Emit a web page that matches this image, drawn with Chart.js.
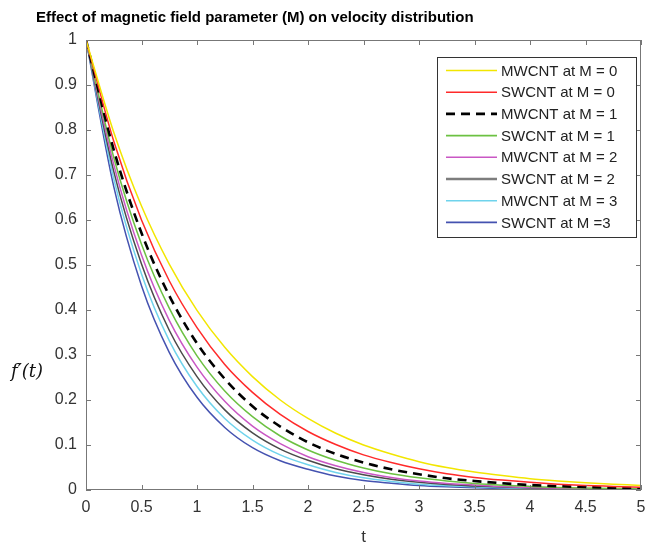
<!DOCTYPE html>
<html>
<head>
<meta charset="utf-8">
<script src="https://cdn.jsdelivr.net/npm/chart.js@4/dist/chart.umd.min.js"></script>
<style>
  html, body { margin: 0; padding: 0; background: #fff; }
  canvas { display: block; }
</style>
</head>
<body>
<canvas id="velChart" width="648" height="546"></canvas>
<script>
// t values (x axis)
const tValues = [0, 0.25, 0.5, 0.75, 1, 1.25, 1.5, 1.75, 2, 2.25, 2.5, 2.75, 3, 3.25, 3.5, 3.75, 4, 4.25, 4.5, 4.75, 5];

// f'(t)
const mwcntM0 = [1, 0.795, 0.631, 0.502, 0.399, 0.317, 0.252, 0.200, 0.159, 0.126, 0.100, 0.080, 0.063, 0.050, 0.040, 0.032, 0.025, 0.020, 0.016, 0.013, 0.010];
const swcntM0 = [1, 0.775, 0.600, 0.465, 0.361, 0.279, 0.217, 0.168, 0.130, 0.101, 0.078, 0.061, 0.047, 0.036, 0.028, 0.022, 0.017, 0.013, 0.010, 0.008, 0.006];
const mwcntM1 = [1, 0.756, 0.571, 0.432, 0.326, 0.247, 0.186, 0.141, 0.106, 0.080, 0.061, 0.046, 0.035, 0.026, 0.020, 0.015, 0.011, 0.0086, 0.0065, 0.0049, 0.0037];
const swcntM1 = [1, 0.739, 0.546, 0.404, 0.298, 0.220, 0.163, 0.120, 0.089, 0.066, 0.049, 0.036, 0.027, 0.020, 0.0145, 0.0107, 0.008, 0.0058, 0.0043, 0.0032, 0.0024];
const mwcntM2 = [1, 0.723, 0.522, 0.377, 0.273, 0.197, 0.142, 0.103, 0.074, 0.054, 0.039, 0.028, 0.020, 0.0146, 0.011, 0.0076, 0.0055, 0.004, 0.003, 0.002, 0.0015];
const swcntM2 = [1, 0.708, 0.502, 0.355, 0.252, 0.178, 0.127, 0.091, 0.066, 0.047, 0.034, 0.024, 0.017, 0.012, 0.009, 0.0065, 0.0045, 0.0033, 0.0025, 0.0017, 0.0012];
const mwcntM3 = [1, 0.692, 0.480, 0.332, 0.230, 0.159, 0.111, 0.078, 0.056, 0.039, 0.027, 0.019, 0.013, 0.0095, 0.007, 0.005, 0.0035, 0.0025, 0.0018, 0.0013, 0.001];
const swcntM3 = [1, 0.674, 0.454, 0.306, 0.206, 0.139, 0.094, 0.065, 0.046, 0.031, 0.021, 0.015, 0.010, 0.007, 0.005, 0.0035, 0.0025, 0.0018, 0.0013, 0.0009, 0.0006];

const seriesLabels = ["MWCNT at M = 0", "SWCNT at M = 0", "MWCNT at M = 1", "SWCNT at M = 1",
  "MWCNT at M = 2", "SWCNT at M = 2", "MWCNT at M = 3", "SWCNT at M =3"];

const toPoints = (ys) => tValues.map((t, i) => ({ x: t, y: ys[i] }));

function line(label, ys, color, width, dash) {
  return {
    label: label,
    data: toPoints(ys),
    borderColor: color,
    borderWidth: width,
    borderDash: dash || [],
    pointRadius: 0,
    fill: false,
    cubicInterpolationMode: "monotone",
  };
}

const datasets = [
  line(seriesLabels[0], mwcntM0, "#f2e600", 1.5),
  line(seriesLabels[1], swcntM0, "#ff2a2a", 1.5),
  line(seriesLabels[2], mwcntM1, "#000000", 2.6, [9, 6]),
  line(seriesLabels[3], swcntM1, "#6cc142", 1.5),
  line(seriesLabels[4], mwcntM2, "#c957c4", 1.5),
  line(seriesLabels[5], swcntM2, "#4a4a4a", 1.5),
  line(seriesLabels[6], mwcntM3, "#6fd3ec", 1.5),
  line(seriesLabels[7], swcntM3, "#4452b0", 1.5),
];
// legend line color for the gray series is a lighter gray
const legendColors = ["#f2e600", "#ff2a2a", "#000000", "#6cc142", "#c957c4", "#7d7d7d", "#6fd3ec", "#4452b0"];

const FONT = "Liberation Sans, Arial, sans-serif";

// box, inner ticks, titles and legend
const frame = {
  id: "frame",
  afterDraw(chart) {
    const { ctx, chartArea: a, scales } = chart;
    const x = scales.x, y = scales.y;
    ctx.save();
    ctx.strokeStyle = "#777";
    ctx.lineWidth = 1;
    ctx.strokeRect(Math.round(a.left) + 0.5, Math.round(a.top) + 0.5,
      Math.round(a.width) - 1, Math.round(a.height) - 1);
    ctx.beginPath();
    x.ticks.forEach((t) => {
      const px = Math.round(x.getPixelForValue(t.value)) + 0.5;
      ctx.moveTo(px, a.bottom); ctx.lineTo(px, a.bottom - 5);
      ctx.moveTo(px, a.top); ctx.lineTo(px, a.top + 5);
    });
    y.ticks.forEach((t) => {
      const py = Math.round(y.getPixelForValue(t.value)) + 0.5;
      ctx.moveTo(a.left, py); ctx.lineTo(a.left + 5, py);
      ctx.moveTo(a.right, py); ctx.lineTo(a.right - 5, py);
    });
    ctx.stroke();

    // title
    ctx.fillStyle = "#000";
    ctx.font = "bold 15px " + FONT;
    ctx.textAlign = "left";
    ctx.textBaseline = "middle";
    ctx.fillText("Effect of magnetic field parameter (M) on velocity distribution", 36, 18);

    // axis titles
    ctx.fillStyle = "#333";
    ctx.font = "17px " + FONT;
    ctx.textAlign = "center";
    ctx.fillText("t", (a.left + a.right) / 2, 537);
    ctx.font = "italic 18px 'DejaVu Serif', 'Liberation Serif', serif";
    ctx.fillStyle = "#111";
    ctx.fillText("f\u2032(t)", 27, 372);

    // legend
    const bw = 199, bh = 180;
    const bx = a.right - 5 - bw, by = a.top + 17;
    ctx.fillStyle = "#fff";
    ctx.fillRect(bx, by, bw, bh);
    ctx.strokeStyle = "#333";
    ctx.strokeRect(Math.round(bx) + 0.5, Math.round(by) + 0.5, bw, bh);
    ctx.font = "15px " + FONT;
    ctx.textAlign = "left";
    chart.data.datasets.forEach((ds, i) => {
      const ry = by + 13.5 + i * 21.7;
      ctx.beginPath();
      ctx.strokeStyle = legendColors[i];
      ctx.lineWidth = ds.borderWidth === 1.5 ? 1.6 : ds.borderWidth;
      if (i === 5) ctx.lineWidth = 2.4;
      ctx.setLineDash(ds.borderDash);
      ctx.moveTo(bx + 9, ry);
      ctx.lineTo(bx + 60, ry);
      ctx.stroke();
      ctx.setLineDash([]);
      ctx.fillStyle = "#222";
      ctx.fillText(ds.label, bx + 64, ry + 1);
    });
    ctx.restore();
  },
};

const tickFmt = (v) => String(Math.round(v * 10) / 10);

new Chart(document.getElementById("velChart").getContext("2d"), {
  type: "line",
  data: { datasets: datasets },
  options: {
    responsive: false,
    animation: false,
    devicePixelRatio: 1,
    layout: { padding: { top: 40, right: 7, left: 0, bottom: 0 } },
    plugins: {
      legend: { display: false },
      title: { display: false },
      tooltip: { enabled: false },
    },
    scales: {
      x: {
        type: "linear",
        min: 0,
        max: 5,
        ticks: { stepSize: 0.5, color: "#333", font: { size: 16, family: FONT }, padding: 8, callback: tickFmt, maxRotation: 0 },
        grid: { display: false, drawTicks: false },
        border: { display: false },
        afterFit: (s) => { s.height = 56; s.paddingRight = 0; s.paddingLeft = 0; },
      },
      y: {
        min: 0,
        max: 1,
        ticks: { stepSize: 0.1, color: "#333", font: { size: 16, family: FONT }, padding: 9, callback: tickFmt },
        grid: { display: false, drawTicks: false },
        border: { display: false },
        afterFit: (s) => { s.width = 86; s.paddingTop = 0; s.paddingBottom = 0; },
      },
    },
  },
  plugins: [frame],
});
</script>
</body>
</html>
